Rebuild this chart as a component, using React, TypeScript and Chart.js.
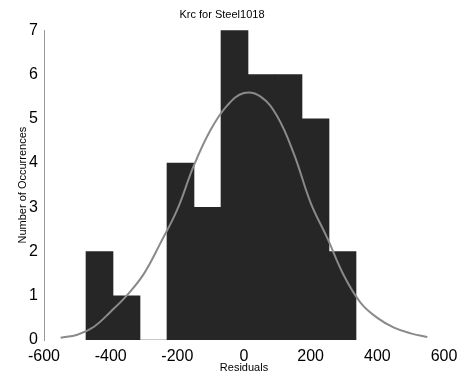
import React, { useEffect, useRef } from "react";
import { Chart, registerables } from "chart.js";

Chart.register(...registerables);

const binCenters = [-433.5, -352.5, -271.5, -190.5, -109.5, -28.5, 52.5, 133.5, 214.5, 295.5];
const binCounts = [2, 1, 0, 4, 3, 7, 6, 6, 5, 2];

const curveX = [-550, -500, -450, -400, -350, -300, -250, -200, -150, -100, -50, 0, 50, 100, 150, 200, 250, 300, 350, 400, 450, 500, 550];
const curveY = [0.05, 0.12, 0.3, 0.64, 1.02, 1.5, 2.2, 2.95, 3.95, 4.75, 5.3, 5.58, 5.5, 5.05, 4.2, 3.1, 2.3, 1.45, 0.84, 0.5, 0.28, 0.15, 0.07];

const xTicks = [-600, -400, -200, 0, 200, 400, 600];
const yTicks = [0, 1, 2, 3, 4, 5, 6, 7];

const FONT = "'Liberation Sans', Arial, sans-serif";

export default function App() {
  const ref = useRef<HTMLCanvasElement | null>(null);
  useEffect(() => {
    if (!ref.current) return;
    const chart = new Chart(ref.current, {
      type: "bar",
      data: {
        datasets: [
          {
            type: "line",
            data: curveX.map((x, i) => ({ x, y: curveY[i] })),
            borderColor: "#8a8a8a",
            borderWidth: 2,
            pointRadius: 0,
            tension: 0.4,
            fill: false,
            order: 0,
          } as any,
          {
            type: "bar",
            data: binCenters.map((x, i) => ({ x, y: binCounts[i] })),
            backgroundColor: "#262626",
            borderWidth: 0,
            barPercentage: 1,
            categoryPercentage: 1,
            order: 1,
          } as any,
        ],
      },
      options: {
        responsive: false,
        animation: false,
        layout: { padding: { left: 0, right: 24, top: 0, bottom: 0 } },
        plugins: {
          legend: { display: false },
          tooltip: { enabled: false },
          title: {
            display: true,
            text: "Krc for Steel1018",
            color: "#000",
            font: { family: FONT, size: 11, weight: "normal" },
            padding: { top: 8, bottom: 9 },
          },
        },
        scales: {
          x: {
            type: "linear",
            min: -600,
            max: 600,
            offset: false,
            grid: { display: false, drawTicks: false, offset: false },
            border: { display: false },
            afterBuildTicks: (s: any) => {
              s.ticks = xTicks.map((v) => ({ value: v }));
            },
            ticks: {
              color: "#000",
              font: { family: FONT, size: 16 },
              padding: 7,
              maxRotation: 0,
              autoSkip: false,
            },
            title: {
              display: true,
              text: "Residuals",
              color: "#000",
              font: { family: FONT, size: 11 },
              padding: { top: -6, bottom: 5 },
            },
            afterFit: (s: any) => {
              s.height = 40;
              s.paddingLeft = 0;
              s.paddingRight = 0;
            },
          },
          y: {
            min: 0,
            max: 7,
            grid: { display: false, drawTicks: false },
            border: { display: true, color: "#999", dash: [2, 2], width: 1 },
            afterBuildTicks: (s: any) => {
              s.ticks = yTicks.map((v) => ({ value: v }));
            },
            ticks: {
              color: "#000",
              font: { family: FONT, size: 16 },
              padding: 6,
            },
            title: {
              display: true,
              text: "Number of Occurrences",
              color: "#000",
              font: { family: FONT, size: 11 },
              padding: { top: 16, bottom: 0 },
            },
            afterFit: (s: any) => {
              s.width = 44;
              s.paddingTop = 0;
              s.paddingBottom = 0;
            },
          },
        },
      } as any,
    });
    return () => chart.destroy();
  }, []);
  return (
    <div style={{ position: "fixed", left: 0, top: 0, width: 468, height: 380, background: "#fff" }}>
      <canvas ref={ref} width={468} height={380} style={{ display: "block" }} />
    </div>
  );
}
